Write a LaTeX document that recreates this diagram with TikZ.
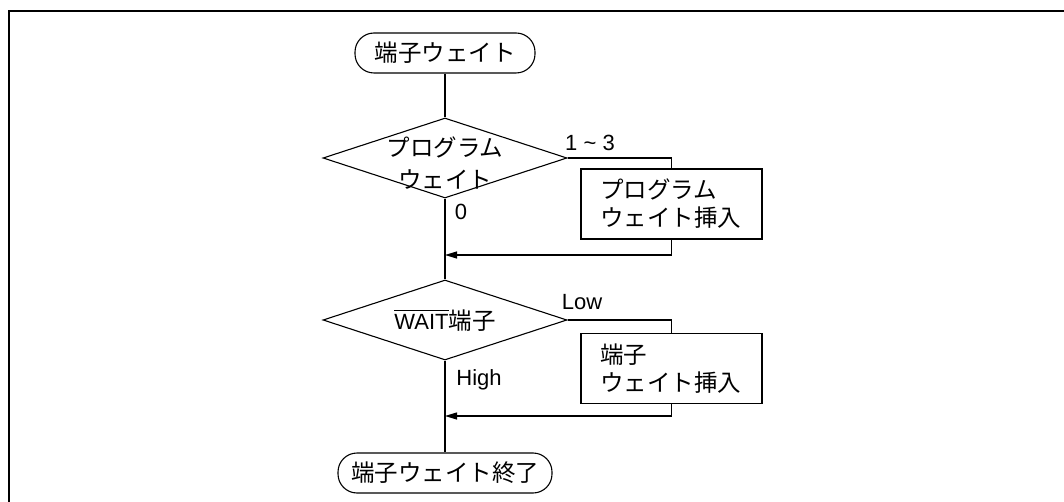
\documentclass[tikz,border=0pt]{standalone}
\usepackage{fontspec}
\setmainfont{Liberation Sans}
\newfontfamily\jp{Noto Sans CJK JP}
\usetikzlibrary{shapes.geometric,arrows.meta}
\newcommand{\latn}[1]{{\normalfont\fontsize{22}{26}\selectfont #1}}
\newcommand{\ovl}[1]{\setbox0\hbox{#1}\rlap{\rule[\dimexpr\ht0+2.5pt\relax]{\wd0}{1.1pt}}\box0}
\newcommand{\ctr}[1]{\smash{\makebox[0pt]{#1}}}
\begin{document}
\begin{tikzpicture}[x=1pt,y=-1pt,
  conn/.style={line width=1.1pt},
  term/.style={draw, line width=1.1pt, rounded corners=19pt, minimum height=40pt, inner sep=0pt,
     font=\jp\fontsize{23.5}{29}\selectfont},
  dec/.style={draw, line width=1.1pt, diamond, minimum width=244pt, minimum height=80pt, inner sep=0pt,
     font=\jp\fontsize{23.5}{30}\selectfont},
  proc/.style={draw, line width=1.1pt, rectangle, minimum height=70pt, text width=143pt, inner xsep=19pt,
     inner ysep=0pt, align=left, font=\jp\fontsize{23.5}{28}\selectfont},
  lbl/.style={inner sep=0pt, font=\fontsize{22}{26}\selectfont},
  arr/.style={conn, -{Triangle[length=12pt,width=7pt]}}]
\useasboundingbox (0,0) rectangle (1064,502);
\coordinate (f1) at (9,502);
\coordinate (f2) at (9,11);
\coordinate (f3) at (1064,11);
\draw[line width=1.5pt] (f1) -- (f2) -- (f3);

\node[term, minimum width=180pt] (start) at (445,53) {端子ウェイト};
\node[dec] (d1) at (445,158) {\ctr{\raisebox{-15pt}{\begin{tabular}{@{}c@{}}プログラム\\[2pt]ウェイト\end{tabular}}}};
\node[proc] (p1) at (671.5,204) {プログラム\\ウェイト挿入};
\coordinate (j1) at (445,255);
\node[dec] (d2) at (445,320) {\ctr{\raisebox{-9pt}{\ovl{\latn{WAIT}}端子}}};
\node[proc] (p2) at (671.5,368.5) {端子\\ウェイト挿入};
\coordinate (j2) at (445,416);
\node[term, minimum width=214pt] (end) at (445,473) {端子ウェイト終了};

\draw[conn] (start) -- (d1);
\draw[conn] (d1.east) -| (p1.north);
\draw[arr] (p1.south) |- (j1);
\draw[conn] (d1.south) -- (d2.north);
\draw[conn] (d2.east) -| (p2.north);
\draw[arr] (p2.south) |- (j2);
\draw[conn] (d2.south) -- (end.north);

\node[lbl] (l13) at (590,143) {1 \textasciitilde{} 3};
\node[lbl] (l0) at (461,212) {0};
\node[lbl] (llow) at (582,302) {Low};
\node[lbl] (lhigh) at (479,380) {High};
\end{tikzpicture}
\end{document}
